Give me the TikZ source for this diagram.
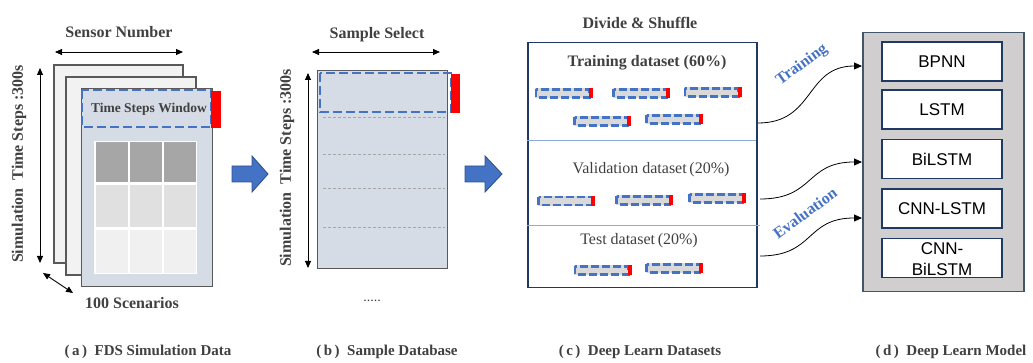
\documentclass[tikz,border=0pt]{standalone}
\usepackage{fontspec}
\setmainfont{Liberation Serif}
\newfontfamily\modelfont{Liberation Sans}
\usetikzlibrary{arrows.meta}

\definecolor{txtgray}{HTML}{404040}
\definecolor{edgegray}{HTML}{595959}
\definecolor{paper}{HTML}{F2F2F2}
\definecolor{steel}{HTML}{D6DCE5}
\definecolor{winblue}{HTML}{4472C4}
\definecolor{arrowedge}{HTML}{2F528F}
\definecolor{navy}{HTML}{203864}
\definecolor{sepblue}{HTML}{8EAADB}
\definecolor{panelgray}{HTML}{D0CECE}
\definecolor{paneledge}{HTML}{44546A}
\definecolor{cellA}{HTML}{A6A6A6}
\definecolor{cellB}{HTML}{E0E0E0}
\definecolor{cellC}{HTML}{F0F0F0}
\definecolor{barfill}{HTML}{D9D9D9}

\begin{document}
\begin{tikzpicture}[x=1pt,y=-1pt,
  lbl/.style={font=\fontsize{16}{19}\selectfont\bfseries, text=txtgray, inner sep=0pt},
  plain/.style={font=\fontsize{16}{19}\selectfont, text=txtgray, inner sep=0pt},
  caption/.style={font=\fontsize{15}{18}\selectfont\bfseries, text=txtgray, inner sep=0pt},
  bluelbl/.style={font=\fontsize{16}{19}\selectfont\bfseries, text=winblue, inner sep=0pt, rotate=36},
  sheet/.style={draw=edgegray, line width=1.3pt},
  dim/.style={{Triangle[length=7pt,width=6pt]}-{Triangle[length=7pt,width=6pt]}, line width=0.9pt, black},
  window/.style={draw=winblue, line width=2.6pt, dash pattern=on 9pt off 4pt},
  redbar/.style={fill=red, draw=none},
  blockarrow/.style={fill=winblue, draw=arrowedge, line width=0.9pt},
  flow/.style={-{Triangle[length=8pt,width=7pt]}, line width=0.8pt, black},
  modelbox/.style={draw=navy, fill=white, line width=1.5pt, minimum width=120pt, minimum height=39pt, inner sep=0pt,
    font=\modelfont\fontsize{17}{21}\selectfont, text=black, align=center},
]
\useasboundingbox (0,0) rectangle (1033,363);

% ---------- (a) FDS simulation data ----------
\node[lbl] (sensor) at (119,32) {Sensor Number};
\coordinate (snL) at (55,52);
\coordinate (snR) at (183,52);
\draw[dim] (snL) -- (snR);

\draw[sheet, fill=paper] (54,65) rectangle (183,263);
\draw[sheet, fill=paper] (66,77) rectangle (196,275);
\node[sheet, fill=steel, anchor=north west, minimum width=131pt, minimum height=198pt, inner sep=0pt] (front) at (81,88) {};

% data grid
\fill[white] (94,141) rectangle (197,274);
\foreach \c [count=\i] in {cellA,cellB,cellC}{
  \pgfmathsetmacro{\ya}{{141,184,229}[\i-1]+1.2}
  \pgfmathsetmacro{\yb}{{183,228,274}[\i-1]-1.2}
  \foreach \xa/\xb in {95.5/128, 129.5/162, 163.5/195.8}{
    \fill[\c] (\xa,\ya) rectangle (\xb,\yb);
  }
}

\draw[window] (82,90) rectangle (211,127);
\fill[redbar] (211,91) rectangle (221,128);
\node[lbl, font=\fontsize{13.5}{16}\selectfont\bfseries] (tsw) at (149,109) {Time Steps Window};

\coordinate (tsTop) at (40,68);
\coordinate (tsBot) at (40,263);
\draw[dim] (tsTop) -- (tsBot);
\node[lbl, rotate=90] (simA) at (19,164) {Simulation\ \ Time Steps :300s};

\coordinate (scA) at (43,273);
\coordinate (scB) at (73,293);
\draw[dim] (scA) -- (scB);
\node[lbl] (scen) at (132,303) {100 Scenarios};

\node[caption] (capA) at (148,352) {(\,a\,)\enspace FDS Simulation Data};

% block arrow a -> b
\draw[blockarrow] (232,166) -- (252,166) -- (252,156) -- (268,174) -- (252,192) -- (252,182) -- (232,182) -- cycle;

% ---------- (b) sample database ----------
\node[lbl] (select) at (377,35) {Sample Select};
\coordinate (ssL) at (312,52);
\coordinate (ssR) at (440,52);
\draw[dim] (ssL) -- (ssR);

\node[sheet, fill=steel, anchor=north west, minimum width=130pt, minimum height=198pt, inner sep=0pt] (db) at (317,70) {};
\foreach \yy in {117,154,188,227}{
  \draw[cellA, line width=0.6pt, dash pattern=on 3pt off 2pt] (323,\yy) -- (445,\yy);
}
\draw[window] (320,73) rectangle (451,112);
\fill[redbar] (451,74) rectangle (460,113);

\coordinate (dbTop) at (308,73);
\coordinate (dbBot) at (308,268);
\draw[dim] (dbTop) -- (dbBot);
\node[lbl, rotate=90] (simB) at (287,168) {Simulation\ \ Time Steps :300s};
\node[plain, font=\fontsize{14}{16}\selectfont] (dots) at (372,301) {.....};

\node[caption] (capB) at (387,352) {(\,b\,)\enspace Sample Database};

% block arrow b -> c
\draw[blockarrow] (465,166) -- (485,166) -- (485,156) -- (502,174) -- (485,192) -- (485,182) -- (465,182) -- cycle;

% ---------- (c) deep learning datasets ----------
\node[lbl] (divide) at (640,23) {Divide \& Shuffle};
\node[draw=navy, line width=1.5pt, anchor=north west, minimum width=229pt, minimum height=245pt, inner sep=0pt] (ds) at (527,42) {};
\draw[sepblue, line width=1pt] (527,141) -- (756,141);
\draw[sepblue, line width=1pt] (527,226) -- (760,226);

\node[lbl] (train) at (647,63) {Training dataset (60\%)};
\node[plain] (valid) at (651,170) {Validation dataset\,(20\%)};
\node[plain] (test) at (639,241) {Test dataset\,(20\%)};

% shuffled sample windows
\foreach \cx/\cy in {563.5/93.5, 641/93.5, 712.5/92.5, 602/121.5, 674/119.5,
                     566/201, 644/200.5, 717/198.5,
                     602.5/270.5, 674/268.5}{
  \fill[barfill] (\cx-28.5,\cy-5) rectangle (\cx+28.5,\cy+5);
  \draw[draw=winblue, line width=2.4pt, dash pattern=on 8pt off 3pt] (\cx-27.5,\cy-4) rectangle (\cx+26,\cy+4);
  \fill[redbar] (\cx+25,\cy-5) rectangle (\cx+29,\cy+5);
}

\node[caption] (capC) at (640,352) {(\,c\,)\enspace Deep Learn Datasets};

% ---------- (d) deep learning models ----------
\node[draw=paneledge, fill=panelgray, line width=1.5pt, anchor=north west, minimum width=161pt, minimum height=259pt, inner sep=0pt] (panel) at (862,32) {};
\node[modelbox] (bpnn) at (942,61.5) {BPNN};
\node[modelbox] (lstm) at (942,109.5) {LSTM};
\node[modelbox] (bilstm) at (942,159) {BiLSTM};
\node[modelbox] (cnnlstm) at (942,208.5) {CNN-LSTM};
\node[modelbox] (cnnbi) at (942,258) {};
\node[font=\modelfont\fontsize{17}{21}\selectfont, align=center, inner sep=0pt] (cnnbiT) at (942,259.5) {CNN-\\BiLSTM};

\node[caption] (capD) at (951,352) {(\,d\,)\enspace Deep Learn Model};

% training / evaluation flows
\coordinate (trS) at (758,123);
\coordinate (trE) at (862,66);
\coordinate (vaS) at (760,199);
\coordinate (vaE) at (862,162);
\coordinate (teS) at (760,256);
\coordinate (teE) at (862,218);
\draw[flow] (trS) .. controls (815,123) and (805,66) .. (trE);
\draw[flow] (vaS) .. controls (815,199) and (805,162) .. (vaE);
\draw[flow] (teS) .. controls (815,256) and (805,218) .. (teE);

\node[bluelbl] (trainL) at (802,65) {Training};
\node[bluelbl] (evalL) at (805,213) {Evaluation};
\end{tikzpicture}
\end{document}
